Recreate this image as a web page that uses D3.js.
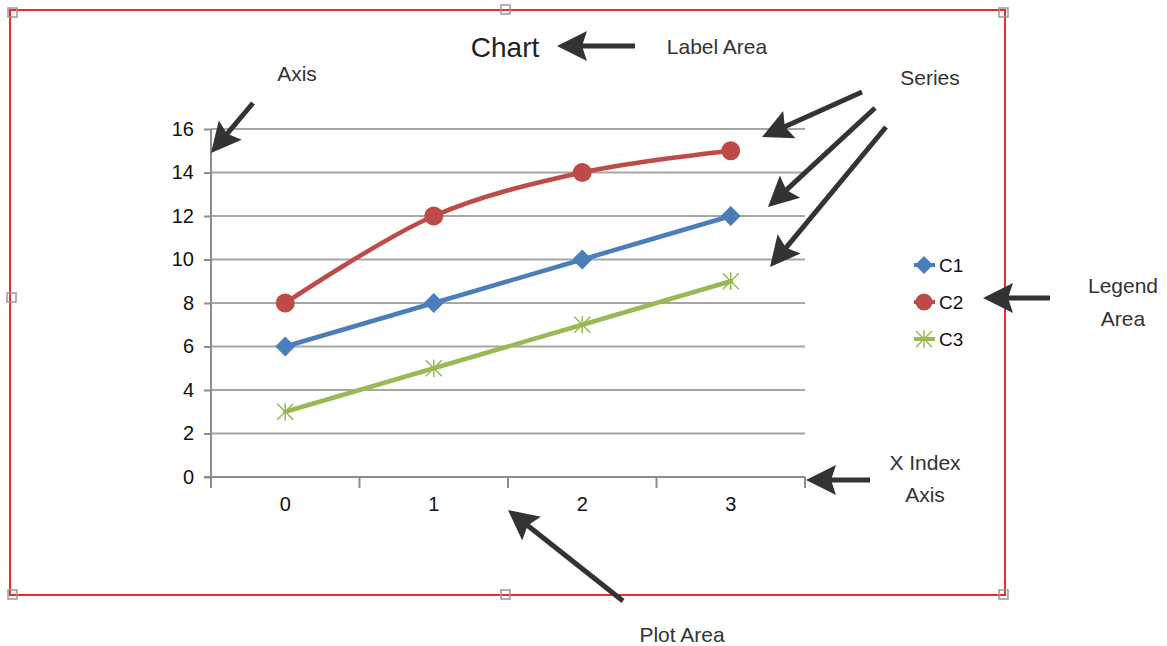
<!DOCTYPE html>
<html><head><meta charset="utf-8">
<script src="https://cdn.jsdelivr.net/npm/d3@7"></script>
<style>
html,body{margin:0;padding:0;background:#fff;}
svg{display:block;font-family:"Liberation Sans",Arial,sans-serif;}
</style></head>
<body>
<svg id="chart" width="1167" height="646"></svg>
<script>
const categories = ["0","1","2","3"];
const seriesNames = ["C1","C2","C3"];
const c1Values = [6, 8, 10, 12];
const c2Values = [8, 12, 14, 15];
const c3Values = [3, 5, 7, 9];
const yTicks = [0, 2, 4, 6, 8, 10, 12, 14, 16];
const titleText = "Chart";

const colors = {C1:"#4a7ebb", C2:"#be4b48", C3:"#98b954"};
const markers = {C1:"diamond", C2:"circle", C3:"star"};
const seriesData = [
  {name:"C1", values:c1Values},
  {name:"C2", values:c2Values},
  {name:"C3", values:c3Values}
];

const svg = d3.select("#chart");

// Selection frame
svg.append("rect").attr("x",10).attr("y",10).attr("width",995).attr("height",585)
  .attr("fill","none").attr("stroke","#ee2a2f").attr("stroke-width",2);
const handles = [[13,13],[506,10],[1004,13],[12,298],[13,595],[506,595],[1004,595]];
svg.selectAll(".handle").data(handles).join("rect")
  .attr("x",d=>d[0]-5).attr("y",d=>d[1]-5).attr("width",9).attr("height",9)
  .attr("fill","none").attr("stroke","#999").attr("stroke-width",1.5);

const x = d3.scaleBand().domain(categories).range([211, 805]).padding(0);
const y = d3.scaleLinear().domain([0, 16]).range([477, 129]);

// gridlines
svg.append("g").selectAll("line").data(yTicks.filter(t=>t>0)).join("line")
  .attr("x1",211).attr("x2",805).attr("y1",d=>y(d)).attr("y2",d=>y(d))
  .attr("stroke","#a6a6a6").attr("stroke-width",2);

// y axis
const yAxis = svg.append("g").attr("transform","translate(211,0)")
  .call(d3.axisLeft(y).tickValues(yTicks).tickSize(7).tickPadding(10).tickFormat(d3.format("d")));
yAxis.select(".domain").attr("stroke","#8c8c8c").attr("stroke-width",2).attr("d","M0,129V477");
yAxis.selectAll(".tick line").attr("stroke","#8c8c8c").attr("stroke-width",2);
yAxis.selectAll(".tick text").attr("font-size",20).attr("fill","#111")
  .attr("font-family","'Liberation Sans',Arial,sans-serif");

// x axis
const xAxis = svg.append("g").attr("transform","translate(0,477)")
  .call(d3.axisBottom(x).tickSize(0).tickPadding(20));
xAxis.select(".domain").attr("stroke","#8c8c8c").attr("stroke-width",2).attr("d","M204,0H805");
xAxis.selectAll(".tick text").attr("font-size",20).attr("fill","#111")
  .attr("font-family","'Liberation Sans',Arial,sans-serif");
const edges = categories.map(c=>x(c)).concat([x.range()[1]]);
xAxis.selectAll(".edge").data(edges).join("line")
  .attr("x1",d=>d).attr("x2",d=>d).attr("y1",0).attr("y2",11)
  .attr("stroke","#8c8c8c").attr("stroke-width",2);

// lines
const line = d3.line()
  .x((d,i)=>x(categories[i]) + x.bandwidth()/2)
  .y(d=>y(d))
  .curve(d3.curveCatmullRom.alpha(0.5));

function drawMarker(g, type, cx, cy, color, s) {
  if (type === "diamond") {
    g.append("path").attr("d",`M${cx},${cy-s}L${cx+s},${cy}L${cx},${cy+s}L${cx-s},${cy}Z`).attr("fill",color);
  } else if (type === "circle") {
    g.append("circle").attr("cx",cx).attr("cy",cy).attr("r",s*0.95).attr("fill",color);
  } else {
    const r = s;
    g.append("path")
      .attr("d",`M${cx-r},${cy-r}L${cx+r},${cy+r}M${cx-r},${cy+r}L${cx+r},${cy-r}M${cx},${cy-r*1.1}L${cx},${cy+r*1.1}`)
      .attr("stroke",color).attr("stroke-width",1.5).attr("fill","none");
  }
}

seriesData.forEach(s=>{
  const g = svg.append("g");
  g.append("path").attr("d",line(s.values)).attr("fill","none")
    .attr("stroke",colors[s.name]).attr("stroke-width",4.5).attr("stroke-linecap","round");
  s.values.forEach((v,i)=>{
    drawMarker(g, markers[s.name], x(categories[i])+x.bandwidth()/2, y(v), colors[s.name],
      markers[s.name]==="star" ? 8 : 10);
  });
});

// legend
const legend = svg.append("g");
seriesNames.forEach((n,i)=>{
  const ly = 265 + i*37;
  legend.append("line").attr("x1",914).attr("x2",935).attr("y1",ly).attr("y2",ly)
    .attr("stroke",colors[n]).attr("stroke-width",4);
  drawMarker(legend, markers[n], 924, ly, colors[n], markers[n]==="star"?8:9);
  legend.append("text").attr("x",939).attr("y",ly+7).attr("font-size",19).attr("fill","#111").text(n);
});

// title
svg.append("text").attr("x",505).attr("y",57).attr("text-anchor","middle")
  .attr("font-size",28).attr("fill","#222").text(titleText);

// annotation labels
const annos = [
  {t:"Label Area", x:717, y:54},
  {t:"Axis", x:297, y:81},
  {t:"Series", x:930, y:85},
  {t:"Legend", x:1123, y:293},
  {t:"Area", x:1123, y:326},
  {t:"X Index", x:925, y:470},
  {t:"Axis", x:925, y:502},
  {t:"Plot Area", x:682, y:642}
];
svg.append("g").selectAll("text").data(annos).join("text")
  .attr("x",d=>d.x).attr("y",d=>d.y).attr("text-anchor","middle")
  .attr("font-size",21).attr("fill","#333").text(d=>d.t);

// arrows: shaft + filled head
const arrows = [
  [635,46,557,46],
  [253,103,211,153],
  [862,92,762,137],
  [875,108,768,207],
  [886,127,770,267],
  [1050,298,983,298],
  [870,480,806,480],
  [623,601,508,510]
];
const ag = svg.append("g");
arrows.forEach(([x1,y1,x2,y2])=>{
  const dx = x2-x1, dy = y2-y1, L = Math.hypot(dx,dy);
  const ux = dx/L, uy = dy/L, px = -uy, py = ux;
  const headLen = 30, headW = 15, notch = 5;
  const bx = x2 - ux*headLen, by = y2 - uy*headLen;
  ag.append("line").attr("x1",x1).attr("y1",y1)
    .attr("x2",x2-ux*(headLen-notch-2)).attr("y2",y2-uy*(headLen-notch-2))
    .attr("stroke","#333").attr("stroke-width",5);
  ag.append("path")
    .attr("d",`M${x2},${y2}L${bx+px*headW},${by+py*headW}L${bx+ux*notch},${by+uy*notch}L${bx-px*headW},${by-py*headW}Z`)
    .attr("fill","#333");
});
</script>
</body></html>
